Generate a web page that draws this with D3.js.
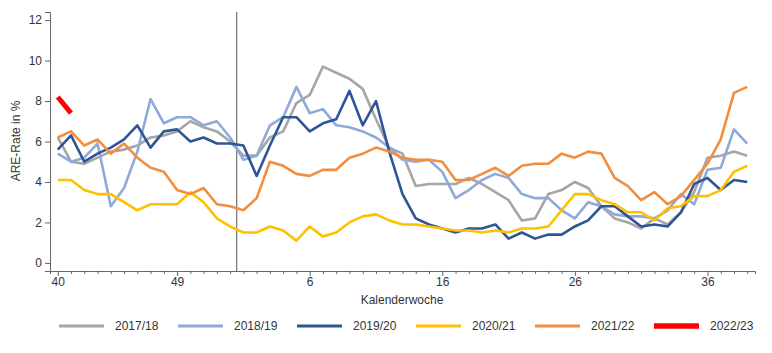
<!DOCTYPE html>
<html>
<head>
<meta charset="utf-8">
<script src="https://cdn.jsdelivr.net/npm/d3@7"></script>
<style>
  body { margin: 0; background: #fff; }
  svg text { font-family: "Liberation Sans", Arial, sans-serif; fill: #333; }
</style>
</head>
<body>
<div id="canvas"></div>
<script>
"use strict"

let svgWidth = 772
let svgHeight = 353

/* Calendar weeks (season runs from week 40 to week 39, incl. week 53) */
let weeks = [40, 41, 42, 43, 44, 45, 46, 47, 48, 49, 50, 51, 52, 53,
    1, 2, 3, 4, 5, 6, 7, 8, 9, 10, 11, 12, 13, 14, 15, 16, 17, 18, 19, 20,
    21, 22, 23, 24, 25, 26, 27, 28, 29, 30, 31, 32, 33, 34, 35, 36, 37, 38, 39]

let weekLabels = [40, 49, 6, 16, 26, 36]
let yTicks = [0, 2, 4, 6, 8, 10, 12]

let seasons = ["2017/18", "2018/19", "2019/20", "2020/21", "2021/22", "2022/23"]

/* ARE rate per week, one array per season */
let s1718 = [6.2, 5.0, 4.9, 5.2, 5.5, 5.6, 5.8, 6.2, 6.3, 6.5, 7.0, 6.7, 6.5, 6.0,
    5.3, 5.3, 6.2, 6.5, 7.9, 8.3, 9.7, 9.4, 9.1, 8.6, 7.1, 5.7, 5.4, 3.8, 3.9, 3.9,
    3.9, 4.2, 3.9, 3.5, 3.1, 2.1, 2.2, 3.4, 3.6, 4.0, 3.7, 2.8, 2.2, 2.0, 1.7, 2.2,
    1.9, 2.5, 3.5, 5.2, 5.3, 5.5, 5.3]
let s1819 = [5.4, 5.0, 5.2, 5.9, 2.8, 3.7, 5.5, 8.1, 6.9, 7.2, 7.2, 6.8, 7.0, 6.2,
    5.1, 5.3, 6.8, 7.2, 8.7, 7.4, 7.6, 6.8, 6.7, 6.5, 6.2, 5.7, 5.1, 5.0, 5.1, 4.5,
    3.2, 3.6, 4.1, 4.4, 4.2, 3.4, 3.2, 3.2, 2.6, 2.2, 3.0, 2.8, 2.4, 2.3, 2.3, 2.2,
    2.6, 3.4, 2.9, 4.6, 4.7, 6.6, 5.9]
let s1920 = [5.6, 6.3, 5.0, 5.4, 5.7, 6.1, 6.8, 5.7, 6.5, 6.6, 6.0, 6.2, 5.9, 5.9,
    5.8, 4.3, 5.8, 7.2, 7.2, 6.5, 6.9, 7.1, 8.5, 6.8, 8.0, 5.5, 3.4, 2.2, 1.9, 1.7,
    1.5, 1.7, 1.7, 1.9, 1.2, 1.5, 1.2, 1.4, 1.4, 1.8, 2.1, 2.8, 2.8, 2.3, 1.8, 1.9,
    1.8, 2.5, 3.9, 4.2, 3.6, 4.1, 4.0]
let s2021 = [4.1, 4.1, 3.6, 3.4, 3.4, 3.0, 2.6, 2.9, 2.9, 2.9, 3.5, 3.0, 2.2, 1.8,
    1.5, 1.5, 1.8, 1.6, 1.1, 1.8, 1.3, 1.5, 2.0, 2.3, 2.4, 2.1, 1.9, 1.9, 1.8, 1.7,
    1.6, 1.6, 1.5, 1.6, 1.5, 1.7, 1.7, 1.8, 2.6, 3.4, 3.4, 3.1, 2.9, 2.5, 2.5, 2.1,
    2.7, 2.8, 3.3, 3.3, 3.6, 4.5, 4.8]
let s2122 = [6.2, 6.5, 5.8, 6.1, 5.4, 5.9, 5.2, 4.7, 4.5, 3.6, 3.4, 3.7, 2.9, 2.8,
    2.6, 3.2, 5.0, 4.8, 4.4, 4.3, 4.6, 4.6, 5.2, 5.4, 5.7, 5.5, 5.2, 5.1, 5.1, 5.0,
    4.1, 4.1, 4.4, 4.7, 4.3, 4.8, 4.9, 4.9, 5.4, 5.2, 5.5, 5.4, 4.2, 3.8, 3.1, 3.5,
    2.9, 3.3, 4.1, 4.9, 6.1, 8.4, 8.7]
let s2223 = [8.2, 7.4]

let seriesValues = [s1718, s1819, s1920, s2021, s2122, s2223]

let color = d3.scaleOrdinal()
    .domain(seasons)
    .range(["#a6a6a6", "#8eaadb", "#2f5597", "#ffc000", "#f28e3f", "#ff0000"])

let lineWidth = d3.scaleOrdinal()
    .domain(seasons)
    .range([2.6, 2.6, 2.6, 2.6, 2.6, 5])

/* Create drawing canvas */
let svg = d3.select("#canvas")
    .append("svg")
    .attr("width", svgWidth)
    .attr("height", svgHeight)

/* Scales */
let xScale = d3.scalePoint()
    .domain(weeks)
    .range([50, 755])
    .padding(0.585)

let yScale = d3.scaleLinear()
    .domain([-0.4, 12.4])
    .range([271, 12])

/* x axis */
let xAxis = svg.append("g")
    .attr("transform", "translate(0,271)")
    .call(d3.axisBottom(xScale)
        .tickSizeOuter(0)
        .tickSize(3)
        .tickPadding(5)
        .tickFormat(function (d) {
            return weekLabels.includes(d) ? d : ""
        }))

xAxis.select(".domain").attr("stroke", "#666")
xAxis.selectAll(".tick line")
    .attr("stroke", "#666")
    .attr("y2", function (d) {
        return weekLabels.includes(d) ? 5 : 3
    })
xAxis.selectAll(".tick text")
    .attr("font-size", 12)
    .attr("dy", "0.6em")

/* y axis */
let yAxis = svg.append("g")
    .attr("transform", "translate(50,0)")
    .call(d3.axisLeft(yScale)
        .tickValues(yTicks)
        .tickSizeOuter(0)
        .tickSize(5)
        .tickPadding(3))

yAxis.select(".domain").attr("stroke", "#666")
yAxis.selectAll(".tick line").attr("stroke", "#666")
yAxis.selectAll(".tick text").attr("font-size", 12)

/* year boundary between week 53 and week 1 */
let boundaryX = (xScale(53) + xScale(1)) / 2
svg.append("line")
    .attr("x1", boundaryX)
    .attr("x2", boundaryX)
    .attr("y1", 12)
    .attr("y2", 271)
    .attr("stroke", "#555")
    .attr("stroke-width", 1)

/* lines */
let line = d3.line()
    .x(function (d, i) { return xScale(weeks[i]) })
    .y(function (d) { return yScale(d) })

seasons.forEach(function (season, k) {
    svg.append("path")
        .datum(seriesValues[k])
        .attr("fill", "none")
        .attr("stroke", color(season))
        .attr("stroke-width", lineWidth(season))
        .attr("stroke-linejoin", "round")
        .attr("d", line)
})

/* axis titles */
svg.append("text")
    .attr("x", 402)
    .attr("y", 304)
    .attr("text-anchor", "middle")
    .attr("font-size", 12)
    .text("Kalenderwoche")

svg.append("text")
    .attr("transform", "translate(20,141) rotate(-90)")
    .attr("text-anchor", "middle")
    .attr("font-size", 12)
    .text("ARE-Rate in %")

/* legend */
let legend = svg.selectAll("g.legend")
    .data(seasons)
    .join("g")
    .attr("class", "legend")
    .attr("transform", function (d, i) {
        return "translate(" + (59 + i * 119) + ",326)"
    })

legend.append("line")
    .attr("x1", 0)
    .attr("x2", 45)
    .attr("stroke", function (d) { return color(d) })
    .attr("stroke-width", function (d) { return lineWidth(d) + 0.5 })

legend.append("text")
    .attr("x", 56)
    .attr("dy", "0.35em")
    .attr("font-size", 12)
    .text(function (d) { return d })
</script>
</body>
</html>
